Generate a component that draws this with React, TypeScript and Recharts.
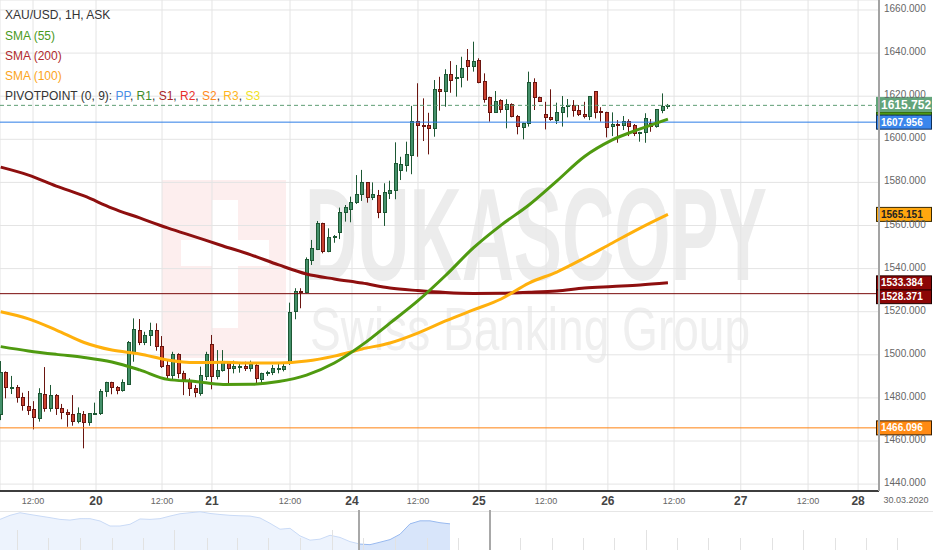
import React from 'react';
import { ComposedChart, AreaChart, Area, Bar, Line, XAxis, YAxis, CartesianGrid, ReferenceLine } from 'recharts';

// hourly candles, XAU/USD ask
const opens = [
  1471.8, 1491.9, 1484.3, 1484.9, 1480.3, 1476.4, 1474.7, 1470.1, 1481.7, 1475.0,
  1481.3, 1475.2, 1473.3, 1472.4, 1468.7, 1472.4, 1468.2, 1472.4, 1472.4, 1482.6,
  1487.2, 1484.9, 1482.9, 1486.3, 1500.7, 1511.5, 1505.6, 1508.7, 1511.5, 1504.2,
  1495.3, 1490.2, 1500.2, 1491.4, 1488.3, 1484.6, 1481.7, 1489.9, 1505.0, 1489.6,
  1492.5, 1496.1, 1493.3, 1494.0, 1494.8, 1493.3, 1495.3, 1488.3, 1491.1, 1491.7,
  1492.9, 1492.9, 1496.1, 1520.0, 1529.6, 1528.5, 1543.2, 1549.0, 1561.0, 1547.6,
  1554.1, 1556.4, 1565.7, 1567.2, 1570.3, 1573.8, 1580.0, 1572.6, 1574.2, 1565.7,
  1574.5, 1575.7, 1585.4, 1587.6, 1592.2, 1608.5, 1606.6, 1606.6, 1604.6, 1623.3,
  1622.1, 1630.3, 1627.8, 1628.3, 1636.8, 1633.7, 1636.8, 1627.0, 1619.8, 1612.3,
  1618.2, 1613.6, 1616.2, 1610.8, 1605.6, 1607.1, 1626.4, 1619.8, 1611.6, 1610.2,
  1608.6, 1612.1, 1614.9, 1615.8, 1613.6, 1611.7, 1610.2, 1622.4, 1613.1, 1612.8,
  1605.4, 1607.1, 1606.3, 1608.6, 1606.6, 1602.6, 1602.8, 1607.4, 1605.4, 1613.3,
  1615.5,
];
const highs = [
  1497.1, 1492.3, 1490.2, 1486.0, 1482.4, 1483.2, 1478.5, 1484.5, 1494.3, 1486.0,
  1481.8, 1477.2, 1474.7, 1481.3, 1475.6, 1473.9, 1472.9, 1477.8, 1484.1, 1487.5,
  1487.5, 1485.5, 1488.6, 1506.4, 1516.9, 1516.6, 1510.7, 1514.9, 1514.6, 1508.7,
  1497.6, 1501.4, 1500.7, 1492.6, 1489.1, 1486.0, 1494.5, 1501.4, 1509.2, 1502.2,
  1502.2, 1496.8, 1497.3, 1496.6, 1496.8, 1497.3, 1495.7, 1491.7, 1492.6, 1495.3,
  1496.3, 1496.3, 1524.2, 1530.9, 1530.9, 1545.2, 1553.3, 1562.1, 1561.3, 1558.7,
  1555.6, 1568.3, 1569.5, 1573.4, 1583.4, 1585.8, 1580.0, 1580.0, 1576.5, 1579.6,
  1580.8, 1598.6, 1591.9, 1598.9, 1615.5, 1626.0, 1619.0, 1612.3, 1627.5, 1629.0,
  1632.5, 1636.3, 1634.5, 1638.3, 1641.9, 1645.3, 1637.6, 1630.6, 1619.8, 1622.4,
  1618.6, 1618.6, 1616.7, 1611.3, 1607.7, 1631.4, 1628.3, 1619.8, 1617.4, 1623.2,
  1617.0, 1620.1, 1618.7, 1618.2, 1615.9, 1617.4, 1620.1, 1622.4, 1614.9, 1612.8,
  1612.5, 1608.9, 1610.8, 1609.3, 1607.1, 1603.5, 1612.1, 1609.4, 1613.9, 1621.3,
  1616.4,
];
const lows = [
  1469.7, 1479.8, 1481.8, 1477.8, 1474.1, 1472.1, 1465.4, 1469.0, 1473.6, 1473.6,
  1472.1, 1470.1, 1466.6, 1467.1, 1468.2, 1456.6, 1467.1, 1472.4, 1472.1, 1480.5,
  1481.7, 1481.7, 1482.9, 1486.0, 1496.8, 1504.5, 1504.5, 1504.1, 1501.9, 1493.9,
  1488.6, 1488.3, 1489.1, 1481.3, 1480.9, 1480.3, 1481.0, 1488.3, 1484.0, 1488.6,
  1492.2, 1486.8, 1491.4, 1491.7, 1492.5, 1492.2, 1486.8, 1486.8, 1490.2, 1490.6,
  1491.4, 1492.3, 1495.3, 1516.5, 1521.6, 1528.5, 1541.7, 1548.6, 1547.1, 1547.6,
  1552.0, 1553.7, 1561.8, 1561.5, 1570.0, 1571.4, 1570.6, 1571.8, 1563.4, 1559.8,
  1572.3, 1572.2, 1581.1, 1585.0, 1583.8, 1591.9, 1599.2, 1593.0, 1601.2, 1613.3,
  1615.1, 1621.6, 1619.8, 1624.1, 1627.2, 1631.4, 1626.0, 1617.0, 1608.2, 1612.3,
  1612.3, 1605.1, 1610.2, 1602.3, 1600.0, 1605.9, 1613.6, 1617.3, 1604.6, 1608.6,
  1607.1, 1605.9, 1610.2, 1610.5, 1610.8, 1609.7, 1608.9, 1609.7, 1608.2, 1600.9,
  1601.5, 1598.4, 1604.3, 1601.5, 1601.5, 1598.9, 1598.4, 1603.5, 1605.4, 1612.1,
  1614.1,
];
const closes = [
  1491.9, 1484.5, 1484.9, 1479.8, 1475.9, 1474.1, 1470.4, 1482.1, 1474.8, 1481.3,
  1474.7, 1472.9, 1471.8, 1468.7, 1472.9, 1468.0, 1472.9, 1472.9, 1483.2, 1487.2,
  1484.3, 1482.9, 1487.2, 1506.1, 1511.8, 1505.6, 1509.2, 1511.5, 1503.8, 1494.5,
  1490.2, 1500.4, 1491.1, 1488.3, 1484.0, 1482.1, 1490.5, 1500.4, 1489.6, 1492.9,
  1496.8, 1493.3, 1494.8, 1494.8, 1493.3, 1495.6, 1488.6, 1491.4, 1492.2, 1494.0,
  1494.0, 1494.9, 1520.0, 1529.6, 1528.5, 1544.3, 1549.4, 1561.3, 1547.4, 1554.5,
  1555.1, 1566.1, 1568.5, 1570.8, 1574.6, 1580.0, 1572.6, 1574.6, 1565.7, 1575.4,
  1576.5, 1588.9, 1588.5, 1593.2, 1608.5, 1606.2, 1605.9, 1604.6, 1623.2, 1622.1,
  1630.3, 1627.2, 1628.8, 1632.9, 1633.7, 1636.3, 1626.3, 1618.2, 1612.3, 1617.9,
  1613.6, 1616.4, 1610.2, 1605.6, 1607.7, 1626.7, 1619.0, 1617.3, 1609.7, 1608.6,
  1612.8, 1614.9, 1615.9, 1613.1, 1611.3, 1610.2, 1620.1, 1612.1, 1612.1, 1605.4,
  1607.0, 1606.3, 1608.5, 1605.9, 1602.3, 1603.2, 1609.7, 1605.6, 1613.9, 1615.5,
  1615.752,
];

// moving averages, read every 5th candle
const smaStep = 5;
const sma55 = [
  1503.8, 1501.8, 1500.2, 1498.8, 1496.7, 1493.0, 1488.6, 1487.6, 1486.2, 1486.3,
  1487.6, 1490.6, 1496.2, 1504.6, 1514.7, 1525.0, 1536.8, 1549.6, 1560.2, 1569.5,
  1580.6, 1592.0, 1599.7, 1604.8, 1609.4,
];
const sma100 = [
  1520.0, 1516.7, 1511.5, 1505.7, 1502.2, 1500.4, 1497.6, 1496.4, 1496.5, 1496.2,
  1496.2, 1497.1, 1499.4, 1502.7, 1505.5, 1510.1, 1515.7, 1520.8, 1525.9, 1533.3,
  1538.4, 1544.9, 1551.9, 1558.8, 1565.151,
];
const sma200 = [
  1587.1, 1583.4, 1578.3, 1573.7, 1568.1, 1563.5, 1558.9, 1554.7, 1550.5, 1546.4,
  1541.7, 1537.5, 1535.2, 1533.3, 1531.0, 1529.8, 1528.9, 1528.5, 1528.6, 1529.0,
  1529.6, 1531.0, 1531.7, 1532.4, 1533.384,
];

const pivotPP = 1607.956;
const pivotS1 = 1528.371;
const pivotS2 = 1466.096;
const lastPrice = 1615.752;

const xTickIdx = [5.81, 17.14, 29.01, 38.0, 52.03, 63.18, 75.05, 86.0, 98.08, 109.2, 121.1, 133.1, 145.2, 154.2];
const xTickLabels = ['12:00', '20', '12:00', '21', '12:00', '24', '12:00', '25', '12:00', '26', '12:00', '27', '12:00', '28'];
const yTicks = [1440, 1460, 1480, 1500, 1520, 1540, 1560, 1580, 1600, 1620, 1640, 1660];

// navigator overview line
const navValues = [
  1645, 1673, 1691, 1679, 1668, 1657, 1645, 1640, 1650, 1650,
  1634, 1599, 1599, 1611, 1648, 1645, 1650, 1668, 1684, 1691,
  1698, 1686, 1679, 1673, 1670, 1668, 1655, 1618, 1577, 1583,
  1531, 1501, 1508, 1535, 1520, 1491, 1474, 1470, 1487, 1505,
  1542, 1614, 1635, 1635, 1622, 1614,
];
const navTicks = [1.7, 4.8, 8.0, 11.2, 14.3, 17.4, 20.7, 23.7, 26.8, 30.0, 33.2, 36.3, 39.5, 42.7, 45.8, 52.0, 55.2, 58.3, 61.4, 64.6, 67.7, 70.8, 74.0, 77.2, 80.3, 83.5, 86.6, 89.7];
const navTall = [1.7, 17.4, 33.2, 64.6, 80.3];

const data = opens.map((o, i) => ({ i, o, h: highs[i], l: lows[i], c: closes[i] }));
const smaSeries = (vals: number[]) => vals.map((v, k) => ({ i: k * smaStep, v }));
const sma55Data = smaSeries(sma55);
const sma100Data = smaSeries(sma100);
const sma200Data = smaSeries(sma200);

const navData = navValues.map((v, k) => ({ k, v }));

const FONT = '"Liberation Sans", Arial, sans-serif';

const Candle = (props: any) => {
  const { x, y, width, height, payload } = props;
  if (!payload) return null;
  const { o, h, l, c } = payload;
  const top = Math.min(y, y + height);
  const span = Math.abs(height);
  const k = span / (h - l);
  const yo = top + (h - o) * k;
  const yc = top + (h - c) * k;
  const up = c >= o;
  const n = Math.round(x + width / 2);
  const edge = up ? '#1d5834' : '#6a1510';
  const body = up ? '#44906a' : '#c9402f';
  const bt = Math.round(Math.min(yo, yc));
  const bh = Math.max(Math.round(Math.abs(yo - yc)), 2);
  return (
    <g>
      <rect x={n - 1} y={top} width={1} height={span} fill={edge} />
      <rect x={n - 2} y={bt} width={4} height={bh} fill={edge} />
      {bh > 2 && <rect x={n - 1} y={bt + 1} width={2} height={bh - 2} fill={body} />}
    </g>
  );
};

const MainXTick = (props: any) => {
  const { x, y, index } = props;
  const label = xTickLabels[index];
  const bold = label !== '12:00';
  return (
    <text x={x} y={y + (bold ? 14 : 13)} textAnchor="middle" fontFamily={FONT}
      fontSize={bold ? 12 : 9} fontWeight={bold ? 'bold' : 'normal'} fill={bold ? '#444' : '#666'}>
      {label}
    </text>
  );
};

const MainYTick = (props: any) => {
  const { x, y, payload } = props;
  return (
    <text x={x + 5} y={y + 2} textAnchor="start" fontFamily={FONT} fontSize={10} fill="#666">
      {Number(payload.value).toFixed(3)}
    </text>
  );
};

const NavTick = (props: any) => {
  const { x, y, payload } = props;
  const len = navTall.includes(payload.value) ? 20 : 12;
  return <rect x={Math.round(x)} y={y - len} width={1} height={len} fill="#e2e2e2" />;
};

const tag = (text: string, fill: string, color: string, border: string, shift = 0, big = false) => (p: any) => {
  const vb = p.viewBox;
  if (!vb) return null;
  const right = vb.x + vb.width;
  const cy = vb.y + shift;
  return (
    <g>
      <rect x={right - 2.5} y={cy - 7} width={55} height={14} fill={fill} stroke={border} strokeWidth={1} />
      <text x={right + 2} y={cy + (big ? 4.5 : 3.6)} fontFamily={FONT} fontSize={big ? 12 : 10}
        fontWeight="bold" fill={color}>
        {text}
      </text>
    </g>
  );
};

const legendRow = (top: number, children: React.ReactNode) => (
  <div style={{ position: 'absolute', left: 5, top, fontFamily: FONT, fontSize: 12, lineHeight: '20px', color: '#333', whiteSpace: 'nowrap' }}>
    {children}
  </div>
);

export default function App() {
  return (
    <div style={{ position: 'absolute', left: 0, top: 0, width: 933, height: 551, background: '#fff', overflow: 'hidden' }}>
      <svg width={933} height={551} style={{ position: 'absolute', left: 0, top: 0 }}>
        <rect x={162} y={180} width={124} height={178} fill="#fdeeee" />
        <rect x={212} y={200} width={26} height={128} fill="#fff" />
        <rect x={181} y={240} width={88} height={26} fill="#fff" />
        <text x={305} y={280} fontFamily={FONT} fontWeight="bold" fontSize={132} fill="#ececec"
          textLength={462} lengthAdjust="spacingAndGlyphs">DUKASCOPY</text>
        <text x={310} y={350} fontFamily={FONT} fontSize={62} fill="#efefef"
          textLength={440} lengthAdjust="spacingAndGlyphs">Swiss Banking Group</text>
      </svg>

      <div style={{ position: 'absolute', left: 0, top: 0 }}>
        <ComposedChart width={933} height={512} data={data} margin={{ top: 0, right: 0, bottom: 0, left: 0 }}>
          <CartesianGrid stroke="#e4e4e4" strokeWidth={1} />
          <XAxis dataKey="i" type="number" domain={[-0.126, 157.96]} allowDataOverflow ticks={xTickIdx}
            interval={0} height={21} tickSize={0} tickMargin={0} tickLine={false}
            axisLine={{ stroke: '#000', strokeWidth: 1.5 }} tick={<MainXTick />} />
          <YAxis orientation="right" width={54} domain={[1436.8, 1664.64]} allowDataOverflow ticks={yTicks}
            interval={0} tickSize={0} tickMargin={0} tickLine={false}
            axisLine={{ stroke: '#a3a3a3', strokeWidth: 2 }} tick={<MainYTick />} />
          <ReferenceLine y={pivotS2} stroke="#ff8210" strokeWidth={1}
            label={{ content: tag('1466.096', '#ff8a14', '#fff', '#3a2000') }} />
          <ReferenceLine y={pivotS1} stroke="#7a0a0a" strokeWidth={1}
            label={{ content: tag('1528.371', '#8c0606', '#fff', '#200000', 3) }} />
          <ReferenceLine y={sma200[sma200.length - 1]} stroke="none"
            label={{ content: tag('1533.384', '#8c0606', '#fff', '#200000') }} />
          <ReferenceLine y={sma100[sma100.length - 1]} stroke="none"
            label={{ content: tag('1565.151', '#ffa70f', '#222', '#3a2a00') }} />
          <ReferenceLine y={sma55[sma55.length - 1]} stroke="none"
            label={{ content: tag('1609.400', '#4f9a12', '#fff', '#24500a') }} />
          <ReferenceLine y={pivotPP} stroke="#2c7de6" strokeWidth={1}
            label={{ content: tag('1607.956', '#3a86ec', '#fff', '#10305a') }} />
          <ReferenceLine y={lastPrice} stroke="#5f9e74" strokeWidth={1} strokeDasharray="4 3"
            label={{ content: tag('1615.752', '#62a47a', '#fff', '#62a47a', -1, true) }} />
          <Bar dataKey={(d: any) => [d.l, d.h]} barSize={4} shape={(p: any) => <Candle {...p} />} isAnimationActive={false} />
          <Line data={sma200Data} dataKey="v" type="monotone" stroke="#8e0f0f" strokeWidth={3} dot={false} activeDot={false} isAnimationActive={false} />
          <Line data={sma100Data} dataKey="v" type="monotone" stroke="#ffb00c" strokeWidth={3} dot={false} activeDot={false} isAnimationActive={false} />
          <Line data={sma55Data} dataKey="v" type="monotone" stroke="#4f9a10" strokeWidth={3} dot={false} activeDot={false} isAnimationActive={false} />
        </ComposedChart>
      </div>

      <div style={{ position: 'absolute', left: 879, top: 495, width: 54, textAlign: 'center', fontFamily: FONT, fontSize: 9, color: '#666' }}>
        30.03.2020
      </div>

      <div style={{ position: 'absolute', left: 0, top: 511, width: 933, height: 1, background: '#e6e6e6' }} />
      <div style={{ position: 'absolute', left: 0, top: 510 }}>
        <AreaChart width={933} height={41} data={navData} margin={{ top: 0, right: 0, bottom: 0, left: 0 }}>
          <defs>
            <linearGradient id="navFill" x1="0" y1="0" x2="933" y2="0" gradientUnits="userSpaceOnUse">
              <stop offset={0.385} stopColor="#edf3fd" />
              <stop offset={0.385} stopColor="#d8e5fa" />
              <stop offset={0.525} stopColor="#d8e5fa" />
              <stop offset={0.525} stopColor="#edf3fd" />
            </linearGradient>
            <linearGradient id="navLine" x1="0" y1="0" x2="933" y2="0" gradientUnits="userSpaceOnUse">
              <stop offset={0.385} stopColor="#c9daf6" />
              <stop offset={0.385} stopColor="#98b9ef" />
              <stop offset={0.525} stopColor="#98b9ef" />
              <stop offset={0.525} stopColor="#c9daf6" />
            </linearGradient>
          </defs>
          <XAxis dataKey="k" type="number" domain={[0, 93.3]} allowDataOverflow ticks={navTicks} interval={0}
            height={1} tickSize={0} tickMargin={0} tickLine={false} axisLine={false} tick={<NavTick />} />
          <YAxis hide domain={[1433, 1710]} allowDataOverflow />
          <Area dataKey="v" type="linear" stroke="url(#navLine)" strokeWidth={1} fill="url(#navFill)" fillOpacity={1} isAnimationActive={false} />
          <ReferenceLine x={35.9} stroke="#a8a8a8" strokeWidth={2} />
          <ReferenceLine x={49.0} stroke="#a8a8a8" strokeWidth={2} />
        </AreaChart>
      </div>

      {legendRow(5, 'XAU/USD, 1H, ASK')}
      {legendRow(26, <span style={{ color: '#4a9a1c' }}>SMA (55)</span>)}
      {legendRow(46, <span style={{ color: '#b02c2c' }}>SMA (200)</span>)}
      {legendRow(66, <span style={{ color: '#fca51c' }}>SMA (100)</span>)}
      {legendRow(86, <>
        PIVOTPOINT (0, 9): <span style={{ color: '#4a8ee6' }}>PP</span>, <span style={{ color: '#3e8b2a' }}>R1</span>, <span style={{ color: '#a82424' }}>S1</span>, <span style={{ color: '#e8302a' }}>R2</span>, <span style={{ color: '#ff8a1c' }}>S2</span>, <span style={{ color: '#ffb61c' }}>R3</span>, <span style={{ color: '#f2e21e' }}>S3</span>
      </>)}
    </div>
  );
}
